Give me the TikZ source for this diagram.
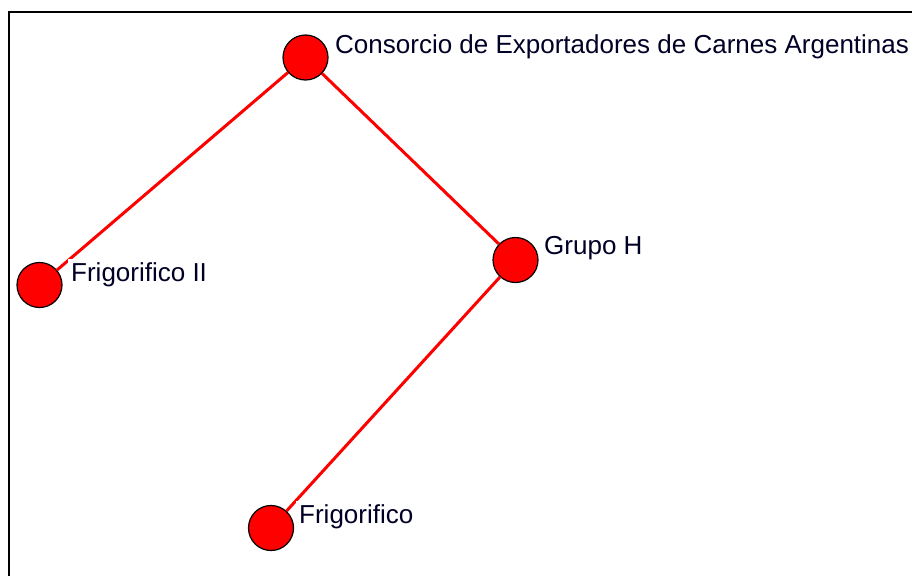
\documentclass[tikz,border=0pt]{standalone}
\usepackage{fontspec}
\setmainfont{Liberation Sans}
\usetikzlibrary{arrows.meta}

\begin{document}
\begin{tikzpicture}[x=1pt,y=-1pt]

\useasboundingbox (0,0) rectangle (912,576);

% frame
\draw [line width=2.5pt] (9,576) -- (9,12) -- (912,12);

\begin{scope}[every node/.style={circle,draw=black,line width=1.2pt,fill=red,minimum size=45pt,inner sep=0pt}]
    \node (cons) at (305.5, 57.5) {};
    \node (frig2) at (39.5, 285) {};
    \node (grupo) at (515.5, 260) {};
    \node (frig) at (271, 528) {};
\end{scope}

\begin{scope}[every edge/.style={draw=red,line width=3pt}]
    \path [-] (cons) edge (frig2);
    \path [-] (cons) edge (grupo);
    \path [-] (grupo) edge (frig);
\end{scope}

\begin{scope}[every node/.style={fill=white,anchor=base west,inner sep=3pt,font=\fontsize{26}{30}\selectfont,text=black!85!blue}]
    \node (lcons) at (332, 53) {Consorcio de Exportadores de Carnes Argentinas};
    \node (lfrig2) at (68, 281) {Frigorifico II};
    \node (lgrupo) at (541, 254) {Grupo H};
    \node (lfrig) at (296, 523) {Frigorifico};
\end{scope}

\end{tikzpicture}
\end{document}
